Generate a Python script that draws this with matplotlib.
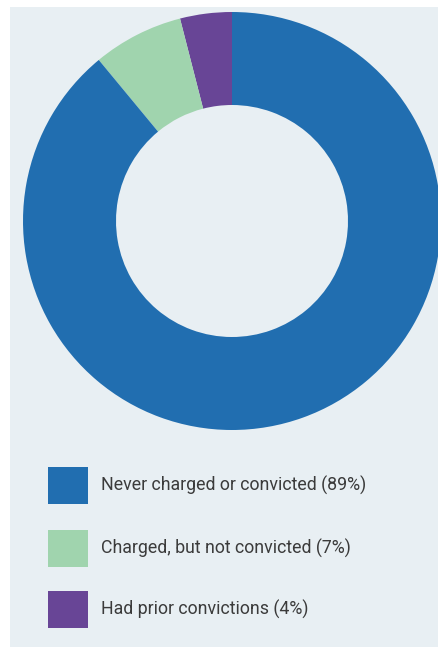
"""Donut chart: prior record of people in the sample."""
import matplotlib
matplotlib.use("Agg")
import matplotlib.pyplot as plt
from matplotlib.patches import Rectangle

# data
labels = ["Had prior convictions", "Charged, but not convicted", "Never charged or convicted"]
shares = [4, 7, 89]
colors = ["#684596", "#a0d4ae", "#216eb0"]

legend_order = [2, 1, 0]

BG = "#e8eff3"
TEXT = "#3b3b3b"
W, H = 439, 647

fig = plt.figure(figsize=(W / 100, H / 100), dpi=100)
fig.patch.set_facecolor("white")

# background axes in pixel coordinates (y down)
bg = fig.add_axes([0, 0, 1, 1])
bg.set_xlim(0, W)
bg.set_ylim(H, 0)
bg.axis("off")
bg.add_patch(Rectangle((10, 7), W - 10, H - 7, color=BG, lw=0))

# donut
cx, cy, r_out, r_in = 232, 221, 209, 116
ax = fig.add_axes([(cx - r_out) / W, (H - cy - r_out) / H, 2 * r_out / W, 2 * r_out / H])
ax.pie(shares, colors=colors, startangle=90, counterclock=True, radius=1,
       wedgeprops=dict(width=1 - r_in / r_out, linewidth=0))
ax.set_xlim(-1, 1)
ax.set_ylim(-1, 1)
ax.set_aspect("auto")
ax.axis("off")

# legend
tops = [467, 530, 591]
for top, i in zip(tops, legend_order):
    bg.add_patch(Rectangle((48, top), 40, 37, color=colors[i], lw=0))
    bg.text(101, top + 18.5, f"{labels[i]} ({shares[i]}%)", va="center", ha="left",
            fontsize=12.8, color=TEXT, family=["Roboto", "DejaVu Sans"])

fig.savefig("out.png", dpi=100)
